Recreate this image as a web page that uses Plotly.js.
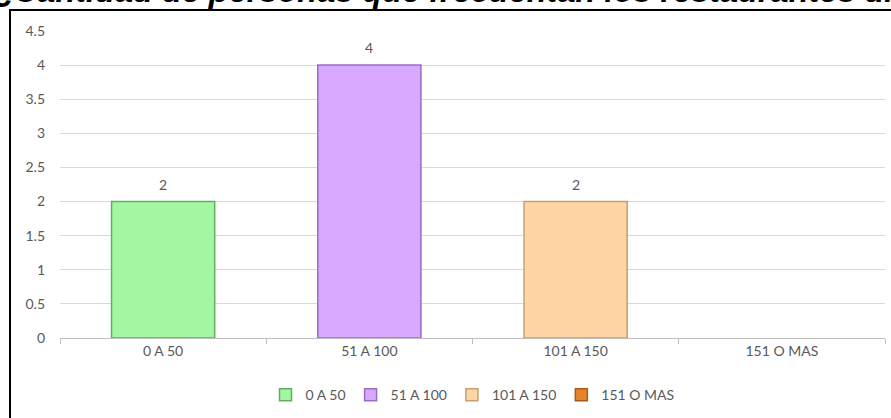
<!DOCTYPE html>
<html>
<head>
<meta charset="utf-8">
<script src="https://cdn.plot.ly/plotly-3.0.1.min.js"></script>
<style>
  html, body { margin: 0; padding: 0; background: #ffffff; }
  #chart { width: 891px; height: 418px; }
</style>
</head>
<body>
<div id="chart"></div>
<script>
// Rangos de gasto y cantidad de personas en cada rango
const categories = ['0 A 50', '51 A 100', '101 A 150', '151 O MAS'];
const personas = [2, 4, 2, null];
const fillColors = ['#A3F7A3', '#D9A8FF', '#FFD6A3', '#E5842A'];
const edgeColors = ['#5FAF5F', '#9A6CC2', '#C79F70', '#A85A14'];
const titleText = '¿Cantidad de personas que frecuentan los restaurantes diariamente?';

const tickFont = { family: 'Lato, "Open Sans", sans-serif', size: 14, color: '#595959' };

const traces = categories.map((c, i) => ({
  type: 'bar',
  name: c,
  x: [c],
  y: [personas[i]],
  width: 0.5,
  marker: { color: fillColors[i], line: { color: edgeColors[i], width: 1.5 } },
  hoverinfo: 'x+y'
}));

// Etiquetas de valor sobre cada barra
const valueLabels = categories
  .map((c, i) => ({ c, v: personas[i] }))
  .filter(d => d.v !== null)
  .map(d => ({
    x: d.c, y: d.v, xref: 'x', yref: 'y',
    text: String(d.v),
    yanchor: 'bottom', yshift: 7,
    showarrow: false,
    font: tickFont
  }));

const layout = {
  width: 891,
  height: 418,
  margin: { l: 60, r: 6, t: 31, b: 80 },
  paper_bgcolor: '#ffffff',
  plot_bgcolor: '#ffffff',
  barmode: 'overlay',
  showlegend: true,
  legend: {
    orientation: 'h',
    x: 0.5, xanchor: 'center',
    y: -0.186, yanchor: 'middle',
    font: tickFont,
    itemwidth: 30,
    tracegroupgap: 0
  },
  xaxis: {
    type: 'category',
    tickfont: tickFont,
    showline: true,
    linecolor: '#BFBFBF',
    linewidth: 1,
    ticks: 'outside',
    tickson: 'boundaries',
    ticklen: 5,
    tickcolor: '#BFBFBF',
    showgrid: false,
    fixedrange: true
  },
  yaxis: {
    range: [0, 4.5],
    dtick: 0.5,
    tickfont: tickFont,
    showgrid: true,
    gridcolor: '#D9D9D9',
    gridwidth: 1,
    zeroline: false,
    showline: false,
    ticks: '',
    ticklabelstandoff: 14,
    fixedrange: true
  },
  shapes: [{
    type: 'rect', xref: 'paper', yref: 'paper',
    x0: -0.0606, x1: 1.2, y0: -0.5, y1: 1.0684,
    line: { color: '#000000', width: 2 },
    fillcolor: 'rgba(0,0,0,0)',
    layer: 'above'
  }],
  annotations: valueLabels.concat([{
    text: '<b><i>' + titleText + '</i></b>',
    xref: 'paper', yref: 'paper',
    x: -0.0824, xanchor: 'left',
    y: 1.065, yanchor: 'bottom',
    showarrow: false,
    font: { family: '"Liberation Sans", Arial, sans-serif', size: 32.5, color: '#000000' }
  }])
};

Plotly.newPlot('chart', traces, layout, { displayModeBar: false, staticPlot: true });
</script>
</body>
</html>
